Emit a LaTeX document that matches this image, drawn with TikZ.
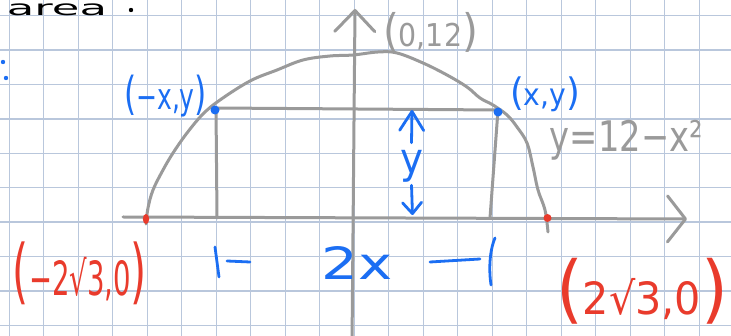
\documentclass[tikz,border=0pt]{standalone}
\usepackage{fontspec}
\setmainfont{DejaVu Sans}
\usepackage{graphicx}
\usetikzlibrary{arrows.meta}
\definecolor{gridc}{HTML}{B9C7DC}
\definecolor{pen}{HTML}{9A9A9A}
\definecolor{bpen}{HTML}{1B6EF3}
\definecolor{rpen}{HTML}{E93B2C}
\newcommand{\hwp}[3]{{\fontsize{#1}{#1}\selectfont(}{\fontsize{#2}{#2}\selectfont #3}{\fontsize{#1}{#1}\selectfont)}}
\begin{document}
\begin{tikzpicture}[x=1pt,y=-1pt,
  gridline/.style={gridc, line width=1.3pt},
  axis/.style={pen, line width=3pt, line cap=round, line join=round},
  bstroke/.style={bpen, line width=2.8pt, line cap=round, line join=round},
  lab/.style={inner sep=0pt, anchor=center}
]
\useasboundingbox (0,0) rectangle (731,336);
\clip (0,0) rectangle (731,336);
\fill[white] (0,0) rectangle (731,336);
% grid
\foreach \i in {0,...,20} \draw[gridline] (9.3+34.5*\i,0) -- (9.3+34.5*\i,336);
\foreach \j in {0,...,9} \draw[gridline] (0,15.7+34.4*\j) -- (731,15.7+34.4*\j);

% black heading fragment
\node[lab] (area) at (57,9.5) {\resizebox*{100pt}{12pt}{area}};
\fill (131,10) circle (2.2);
% blue colon fragment
\fill[bpen] (3,62) circle (2.2);
\fill[bpen] (6,78) circle (2.2);

% coordinates
\coordinate (xl) at (123,217);
\coordinate (xr) at (687,219);
\coordinate (yb) at (352,345);
\coordinate (yt) at (355,9);
\coordinate (PL) at (216,108);
\coordinate (PR) at (498,110);
\coordinate (BL) at (217,218);
\coordinate (BR) at (490,218);
\coordinate (A) at (146,219);
\coordinate (B) at (547.5,218);

% axes
\draw[axis, -{Straight Barb[round,length=18pt,width=46pt]}] (xl) -- (xr);
\draw[axis, -{Straight Barb[round,length=21pt,width=40pt]}] (yb) -- (yt);

% parabola
\draw[axis] plot[smooth, tension=0.6] coordinates {
 (146,224) (148,208) (153,190) (163,170) (173,153) (187,133) (203,114) (220,100)
 (250,81) (277,70) (303,60) (330,56) (353,55) (378,52) (397,53) (423,63)
 (447,75) (467,87) (480,98) (493,105) (507,115) (517,127) (527,143) (533,167)
 (538,190) (545,210) (548,232)};

% rectangle
\draw[axis] (PL) -- (PR);
\draw[axis] (PL) -- (BL);
\draw[axis] (PR) -- (BR);

% points
\fill[bpen] (215,110) circle (4.5);
\fill[bpen] (498,112) circle (4.5);
\fill[rpen] (A) ellipse (3.2 and 5);
\fill[rpen] (B) circle (4);

% labels
\node[lab, text=bpen] (lxy) at (165.5,96) {\resizebox*{83pt}{42pt}{\hwp{40}{32}{−x,y}}};
\node[lab, text=bpen] (rxy) at (545,94.5) {\resizebox*{70pt}{35pt}{\hwp{40}{32}{x,y}}};
\node[lab, text=pen] (toplab) at (430.5,32) {\resizebox*{95pt}{40pt}{\hwp{40}{28}{0,12}}};
\node[lab, text=pen] (eq) at (626.5,140) {\resizebox*{153pt}{40pt}{y=12−x²}};
\node[lab, text=bpen] (ylab) at (411.5,166) {\resizebox*{23pt}{32pt}{y}};
\node[lab, text=bpen] (twox) at (357.5,263.5) {\resizebox*{71pt}{33pt}{2x}};
\node[lab, text=rpen] (lm) at (80,273.5) {\resizebox*{134pt}{63pt}{\hwp{60}{40}{−2√3,0}}};
\node[lab, text=rpen] (rm) at (642,291) {\resizebox*{172pt}{66pt}{\hwp{60}{36}{2√3,0}}};

% height arrows
\coordinate (ytop) at (412,110);
\coordinate (ybot) at (412.5,215);
\draw[bstroke, -{Straight Barb[round,length=19pt,width=24pt]}] ([yshift=7pt]ylab.north) -- (ytop);
\draw[bstroke, -{Straight Barb[round,length=11pt,width=19pt]}] ([yshift=-3pt]ylab.south) -- (ybot);

% width bracket strokes
\coordinate (b1) at (215,247);
\coordinate (b2) at (219,277);
\coordinate (d1) at (227,261);
\coordinate (d2) at (250,262);
\coordinate (d3) at (430,262);
\coordinate (d4) at (480,259);
\coordinate (e1) at (495,238);
\coordinate (e2) at (491,285);
\draw[bstroke] (b1) -- (b2);
\draw[bstroke] (d1) -- (d2);
\draw[bstroke] (d3) -- (d4);
\draw[bstroke] (e1) .. controls (489,252) and (489,272) .. (e2);
\end{tikzpicture}
\end{document}
